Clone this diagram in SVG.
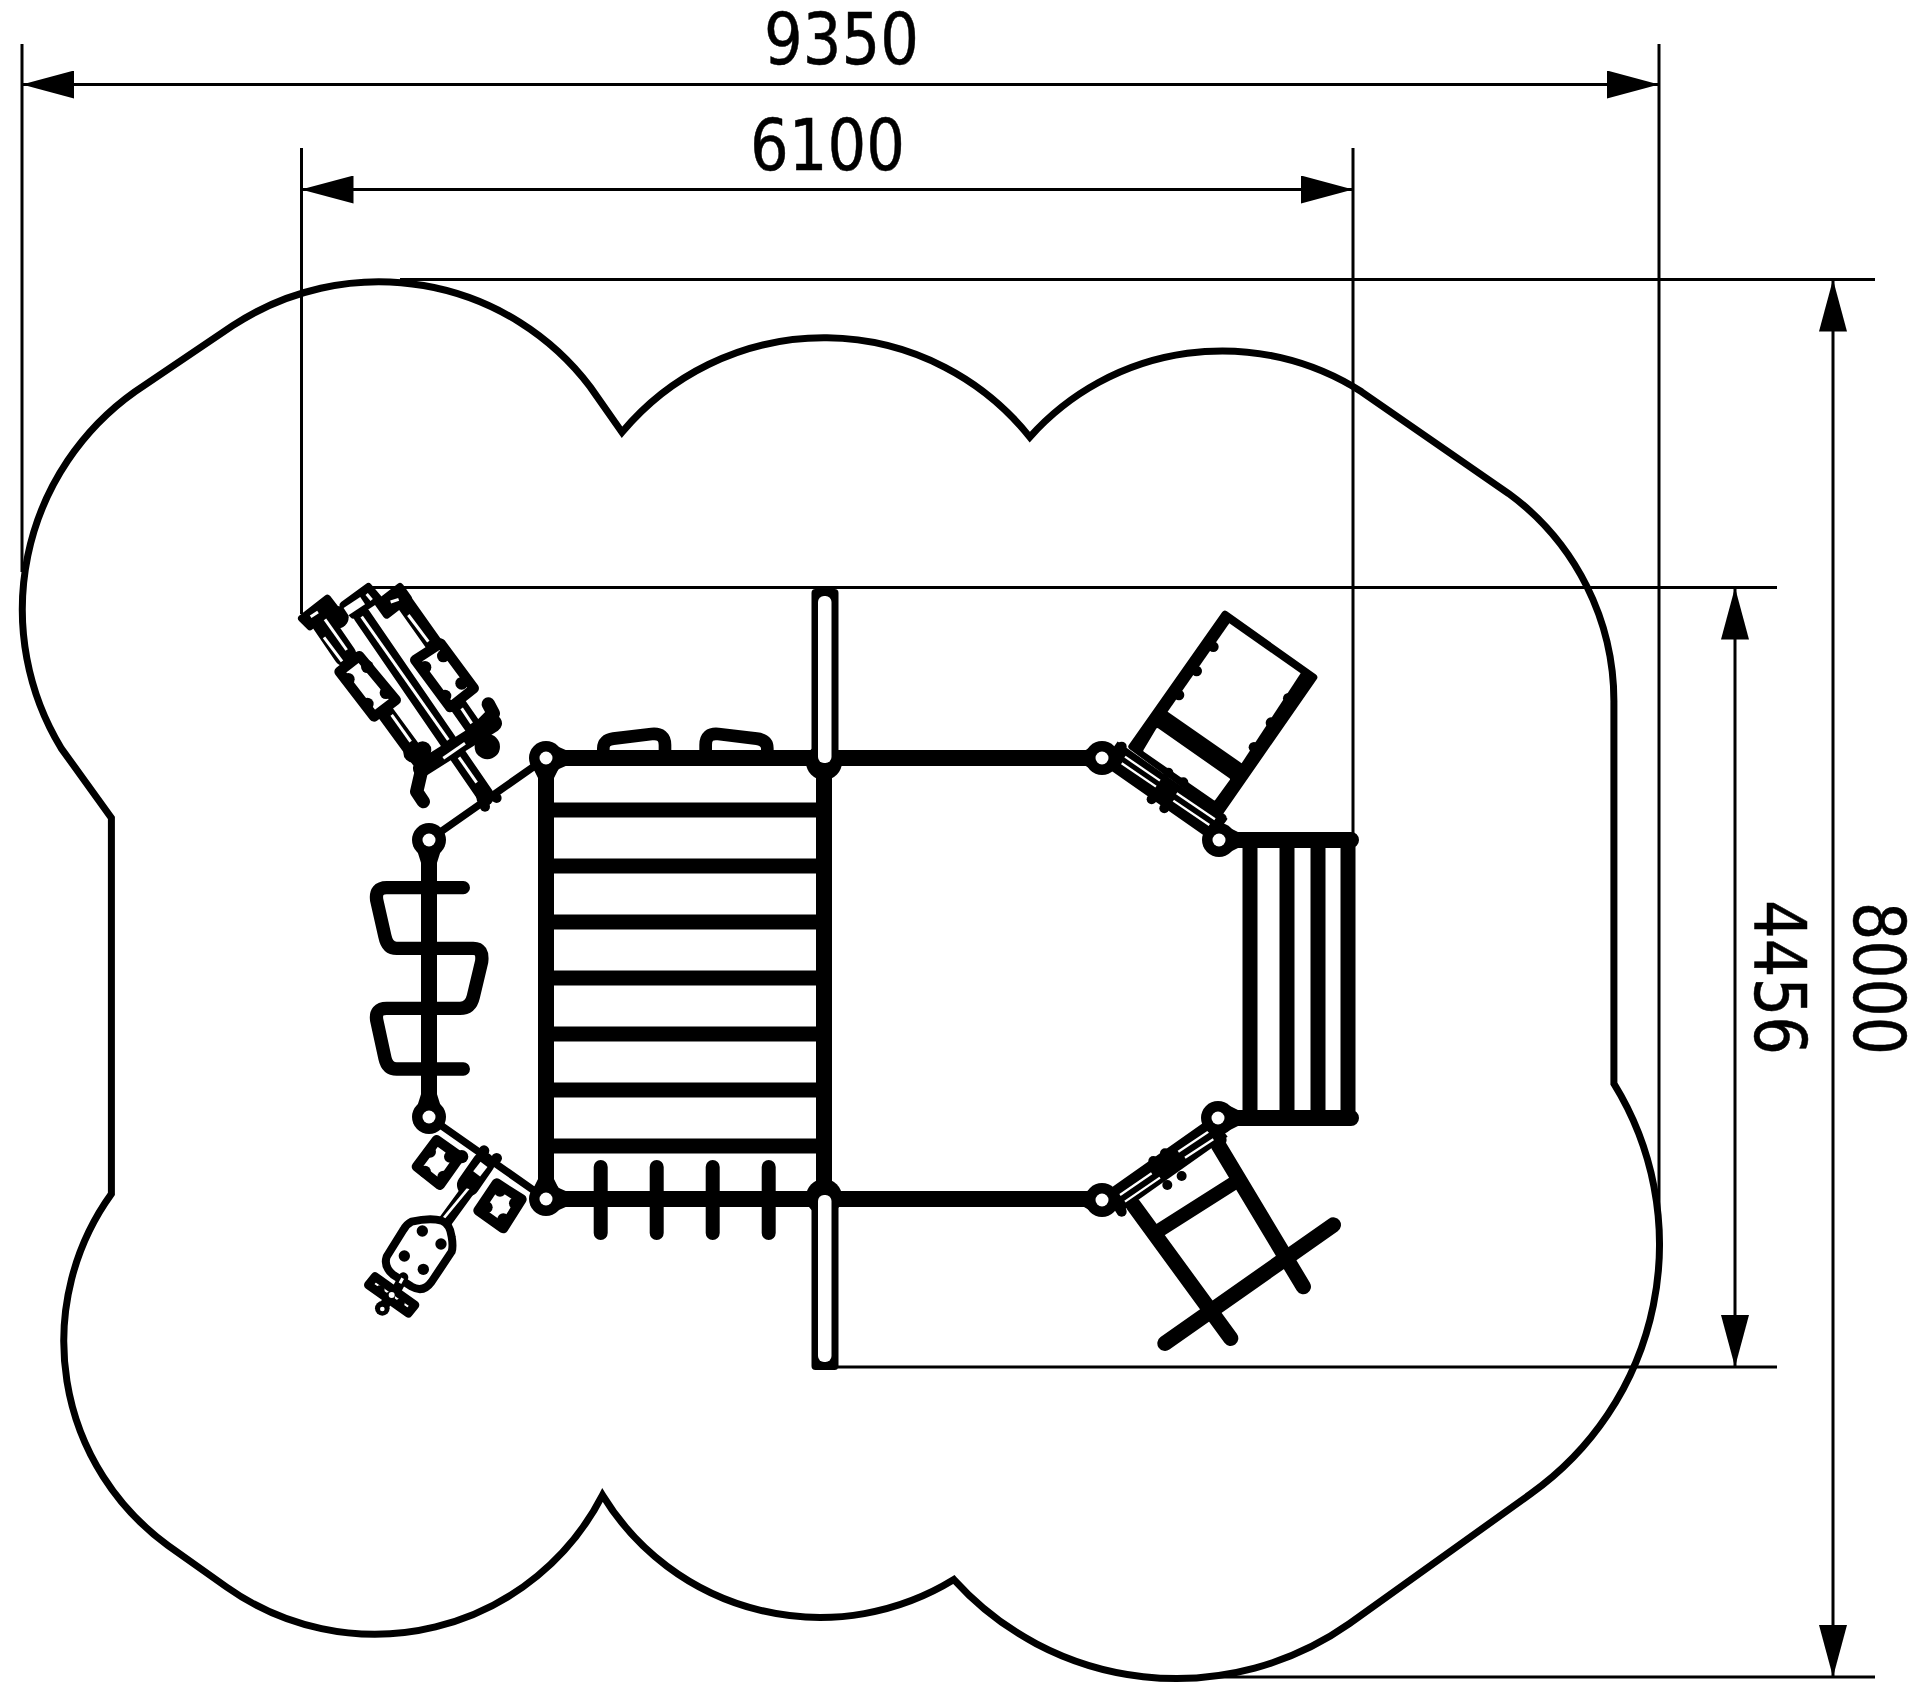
<svg xmlns="http://www.w3.org/2000/svg" width="1920" height="1698" viewBox="0 0 1920 1698">
<defs>
<marker id="arr" markerUnits="userSpaceOnUse" markerWidth="52" markerHeight="28" viewBox="0 0 52 28" refX="52" refY="14" orient="auto-start-reverse"><path d="M0 0L52 14L0 28Z" fill="#000"/></marker>
</defs>
<style>
.dim{fill:none;stroke:#000;stroke-width:3;marker-start:url(#arr);marker-end:url(#arr)}
.ext{fill:none;stroke:#000;stroke-width:3}
.out{fill:none;stroke:#000;stroke-width:7}
.t{font-family:"DejaVu Sans",sans-serif;font-size:71px;fill:#000;stroke:#000;stroke-width:.5}
.bar,.thin{stroke-linecap:round}
.bar{fill:none;stroke:#000;stroke-width:16}
.rung{fill:none;stroke:#000;stroke-width:15}
.thin{fill:none;stroke:#000;stroke-width:7.500}
.tick{stroke:#000;stroke-width:14;stroke-linecap:round}
.hole{fill:#fff}
.blk{fill:#000}
.z line,.z path{fill:none;stroke:#000;stroke-linejoin:round;stroke-linecap:round}
.z .wl{stroke:#fff;stroke-linecap:butt;stroke-width:9}
.z .seat{fill:#fff;stroke:#000;stroke-width:30;stroke-linejoin:round}
.s24{stroke-width:24!important}.s26{stroke-width:26!important}.s30{stroke-width:30!important}.s38{stroke-width:38!important}.s40{stroke-width:40!important}.s42{stroke-width:42!important}.s46{stroke-width:46!important}.s50{stroke-width:52!important}.s62{stroke-width:62!important}.s66{stroke-width:68!important}
</style>
<g id="surface"><path class="out" d="M232.7 325.7A265 265 0 0 1 590.2 386.9L622 432.3A263 263 0 0 1 1029.8 437.1A258 258 0 0 1 1361.6 391.8L1508.6 493.5A258 258 0 0 1 1613.9 704V1083.7A306 306 0 0 1 1530.6 1493.9L1349.4 1623.7A300 300 0 0 1 953.9 1579.6A255 255 0 0 1 602.5 1495.1A256 256 0 0 1 226.5 1587L167.8 1545.3A252 252 0 0 1 111.4 1193.9V818L61.2 748.2A267 267 0 0 1 134.7 391.8Z"/></g>
<g id="dimensions">
<line class="ext" x1="22" y1="44" x2="22" y2="572"/>
<line class="ext" x1="1659" y1="44" x2="1659" y2="1230"/>
<line class="ext" x1="301.5" y1="148" x2="301.5" y2="614"/>
<line class="ext" x1="1353" y1="148" x2="1353" y2="840"/>
<line class="ext" x1="400" y1="279.5" x2="1875" y2="279.5"/>
<line class="ext" x1="1176" y1="1677" x2="1875" y2="1677"/>
<line class="ext" x1="370" y1="587.5" x2="1777" y2="587.5"/>
<line class="ext" x1="838" y1="1367" x2="1777" y2="1367"/>
<line class="dim" x1="22" y1="84.5" x2="1659" y2="84.5"/>
<line class="dim" x1="301.5" y1="189.5" x2="1353" y2="189.5"/>
<line class="dim" x1="1833" y1="279.5" x2="1833" y2="1677"/>
<line class="dim" x1="1735" y1="587.5" x2="1735" y2="1367"/>
<text class="t" x="764" y="64" textLength="155" lengthAdjust="spacingAndGlyphs">9350</text>
<text class="t" x="750" y="170" textLength="155" lengthAdjust="spacingAndGlyphs">6100</text>
<text class="t" transform="translate(1755 900) rotate(90)" textLength="155" lengthAdjust="spacingAndGlyphs">4456</text>
<text class="t" transform="translate(1854 902) rotate(90)" textLength="153" lengthAdjust="spacingAndGlyphs">8000</text>
</g>
<g id="deck">
<line class="thin" x1="429" y1="840" x2="546" y2="758"/>
<line class="thin" x1="429" y1="1117" x2="546" y2="1199"/>
<line class="bar" x1="429" y1="840" x2="429" y2="1117"/>
<path class="bar" d="M546 758H1102M546 1199H1102M546 758V1199M824 758V1199"/>
<path class="rung" d="M546 810H824M546 866H824M546 922H824M546 978H824M546 1034H824M546 1090H824M546 1146H824"/>
<path class="tick" d="M600.700 1167V1233M656.700 1167V1233M712.700 1167V1233M768.700 1167V1233"/>
<g transform="translate(520 580) scale(.3333)" class="z"><path class="s38" d="M250 520V505Q250 480 280 476L395 462Q435 458 435 495V520"/><path class="s38" d="M557 520V495Q557 458 595 462L710 476Q742 480 742 505V520"/></g>
</g>
<g id="climber-w" class="z" transform="translate(350 820) scale(.3333)"><path class="s40" d="M340 203H110Q75 203 80 240L105 350Q112 385 140 385H370Q400 385 395 425L370 530Q362 565 330 565H110Q75 565 80 600L105 715Q112 747 140 747H340"/></g>
<g id="steps-e">
<path class="rung" d="M1250 840V1118M1287 840V1118M1318 840V1118M1348 840V1118"/>
<path class="bar" d="M1219 840H1351M1218 1118H1351"/>
</g>
<g id="post-n"><circle class="blk" cx="824" cy="762" r="18"/><rect class="blk" x="811.500" y="589" width="27" height="175" rx="4"/><rect class="hole" x="818" y="596" width="13.500" height="167" rx="6"/></g>
<g id="post-s"><circle class="blk" cx="824" cy="1197" r="18"/><rect class="blk" x="811.500" y="1190" width="27" height="180" rx="4"/><rect class="hole" x="818" y="1195" width="13.500" height="167" rx="6"/></g>
<g id="bench-nw" class="z" transform="translate(280 560) scale(.3333)">
<line class="s50" x1="245" y1="165" x2="615" y2="705"/>
<line class="s66" x1="130" y1="190" x2="195" y2="285"/>
<line class="s50" x1="310" y1="450" x2="420" y2="600"/>
<line class="s50" x1="375" y1="130" x2="460" y2="250"/>
<line class="s50" x1="530" y1="430" x2="600" y2="530"/>
<polygon class="blk" stroke="#000" stroke-width="22" stroke-linejoin="round" points="65,175 142,115 165,145 90,200"/>
<polygon class="blk" stroke="#000" stroke-width="22" stroke-linejoin="round" points="190,135 265,80 295,115 220,165"/>
<polygon class="blk" stroke="#000" stroke-width="22" stroke-linejoin="round" points="295,130 360,80 385,115 320,165"/>
<circle class="blk" cx="172" cy="172" r="34"/>
<line class="wl" x1="92" y1="170" x2="114" y2="156"/>
<line class="wl s26" x1="198" y1="155" x2="248" y2="122"/>
<line class="wl" x1="260" y1="102" x2="275" y2="120"/>
<line class="wl" x1="332" y1="126" x2="356" y2="118"/>
<line class="wl" x1="245" y1="170" x2="505" y2="540"/>
<line class="wl" x1="537" y1="592" x2="590" y2="668"/>
<line class="wl" x1="135" y1="178" x2="200" y2="270"/>
<line class="wl" x1="132" y1="232" x2="186" y2="304"/>
<line class="wl" x1="335" y1="465" x2="392" y2="545"/>
<line class="wl" x1="385" y1="165" x2="445" y2="245"/>
<line class="wl" x1="545" y1="445" x2="575" y2="490"/>
<polygon class="seat" points="178,335 238,288 348,420 282,470"/>
<polygon class="seat" points="405,300 482,250 582,385 510,442"/>
<g class="blk"><circle cx="205" cy="358" r="19"/><circle cx="262" cy="320" r="19"/><circle cx="262" cy="432" r="19"/><circle cx="318" cy="398" r="19"/><circle cx="435" cy="322" r="19"/><circle cx="490" cy="288" r="19"/><circle cx="495" cy="408" r="19"/><circle cx="545" cy="370" r="19"/></g>
<line class="s50" x1="425" y1="625" x2="640" y2="490"/>
<line class="wl" x1="490" y1="595" x2="555" y2="550"/>
<path class="s40" d="M425 630L410 695L430 725"/>
<path class="s40" d="M600 500L640 460L625 432"/>
<g class="blk"><circle cx="622" cy="560" r="38"/><circle cx="600" cy="525" r="32"/><circle cx="400" cy="578" r="30"/><circle cx="428" cy="570" r="26"/><circle cx="615" cy="712" r="26"/><circle cx="615" cy="740" r="15"/><circle cx="650" cy="714" r="15"/></g>
</g>
<g id="spring-sw" class="z" transform="translate(340 1100) scale(.3333)">
<line class="s66" x1="430" y1="190" x2="385" y2="255"/>
<line class="s42" x1="395" y1="255" x2="310" y2="372"/>
<line class="wl" style="stroke-width:8" x1="385" y1="265" x2="305" y2="362"/>
<line class="wl s26" x1="432" y1="193" x2="410" y2="222"/>
<g class="blk"><circle cx="432" cy="152" r="16"/><circle cx="470" cy="175" r="16"/><circle cx="365" cy="170" r="20"/><circle cx="385" cy="250" r="16"/></g>
<polygon class="seat" points="290,120 360,170 300,255 230,200"/>
<polygon class="seat" points="470,250 545,298 490,385 415,332"/>
<g class="blk"><circle cx="270" cy="155" r="18"/><circle cx="330" cy="170" r="18"/><circle cx="310" cy="230" r="18"/><circle cx="255" cy="215" r="18"/><circle cx="480" cy="272" r="18"/><circle cx="525" cy="310" r="18"/><circle cx="490" cy="358" r="18"/><circle cx="440" cy="322" r="18"/></g>
<path class="s24" style="fill:#fff" d="M215 365Q270 352 305 362Q330 372 335 410Q340 440 335 455L275 545Q250 580 215 560L160 525Q130 500 140 470L190 390Q200 372 215 365Z"/>
<g class="blk"><circle cx="247" cy="393" r="17"/><circle cx="303" cy="432" r="17"/><circle cx="193" cy="468" r="17"/><circle cx="250" cy="508" r="17"/></g>
<path class="s26" style="fill:#fff" d="M105 530L225 615L205 640L85 555Z"/>
<line class="s30" x1="150" y1="590" x2="127" y2="625"/>
<line class="s30" x1="190" y1="532" x2="172" y2="565"/>
<g class="blk"><circle cx="120" cy="570" r="14"/><circle cx="180" cy="610" r="14"/><circle cx="127" cy="625" r="22"/></g>
<circle class="hole" cx="127" cy="627" r="7"/>
<circle class="hole" cx="155" cy="585" r="9"/>
<line class="wl" x1="188" y1="535" x2="180" y2="550"/>
</g>
<g id="slide-ne" class="z" transform="translate(1070 590) scale(.3333)">
<polygon class="blk" stroke="#000" stroke-width="20" stroke-linejoin="round" points="465,72 732,262 452,665 185,470"/>
<polygon class="hole" points="478,100 692,250 515,520 293,365"/>
<polygon class="hole" stroke="#fff" stroke-width="8" stroke-linejoin="round" points="262,418 476,568 433,627 224,482"/>
<g class="blk"><circle cx="430" cy="170" r="16"/><circle cx="380" cy="243" r="16"/><circle cx="327" cy="315" r="16"/><circle cx="655" cy="325" r="16"/><circle cx="603" cy="398" r="16"/><circle cx="552" cy="472" r="16"/></g>
<line class="s62" style="stroke-linecap:butt" x1="125" y1="480" x2="455" y2="712"/>
<line class="s30" x1="97" y1="505" x2="447" y2="750"/>
<line class="wl" style="stroke-width:7" x1="165" y1="500" x2="270" y2="572"/>
<line class="wl" style="stroke-width:7" x1="155" y1="520" x2="258" y2="590"/>
<line class="wl" style="stroke-width:7" x1="320" y1="610" x2="435" y2="688"/>
<line class="wl" style="stroke-width:7" x1="310" y1="632" x2="418" y2="705"/>
<g class="blk"><circle cx="155" cy="470" r="15"/><circle cx="295" cy="548" r="15"/><circle cx="340" cy="577" r="15"/><circle cx="245" cy="628" r="15"/><circle cx="283" cy="655" r="15"/><circle cx="455" cy="685" r="15"/></g>
</g>
<g id="ladder-se" class="z" transform="translate(1070 1090) scale(.3333)">
<line class="s46" x1="190" y1="345" x2="482" y2="745"/>
<line class="s46" x1="445" y1="165" x2="700" y2="590"/>
<line class="s42" x1="262" y1="425" x2="490" y2="280"/>
<line class="s46" x1="285" y1="760" x2="790" y2="405"/>
<line class="s62" style="stroke-linecap:butt" x1="125" y1="348" x2="455" y2="115"/>
<line class="s30" x1="97" y1="330" x2="445" y2="85"/>
<line class="wl" style="stroke-width:7" x1="150" y1="315" x2="245" y2="250"/>
<line class="wl" style="stroke-width:7" x1="165" y1="335" x2="270" y2="263"/>
<line class="wl" style="stroke-width:7" x1="325" y1="185" x2="415" y2="125"/>
<line class="wl" style="stroke-width:7" x1="345" y1="203" x2="430" y2="148"/>
<g class="blk"><circle cx="155" cy="365" r="15"/><circle cx="250" cy="213" r="15"/><circle cx="285" cy="190" r="15"/><circle cx="335" cy="258" r="15"/><circle cx="292" cy="285" r="15"/><circle cx="455" cy="150" r="15"/></g>
</g>
<g id="joints">
<path class="blk" d="M533 768L559 768L553 780H539ZM552 744L568 751V765L552 772ZM533 1189H559L553 1177H539ZM552 1185L568 1192V1206L552 1213Z"/>
<path class="blk" d="M417 850H441L436 866H422ZM417 1107H441L436 1091H422Z"/>
<path class="blk" d="M1096 744L1084 751V765L1096 772ZM1096 1186L1084 1193V1207L1096 1214ZM1226 826L1240 833V847L1226 854ZM1226 1104L1240 1111V1125L1226 1132Z"/>
<g class="blk"><circle cx="546" cy="758" r="17"/><circle cx="546" cy="1199" r="17"/><circle cx="429" cy="840" r="17"/><circle cx="429" cy="1117" r="17"/><circle cx="1102" cy="758" r="17"/><circle cx="1102" cy="1200" r="17"/><circle cx="1219" cy="840" r="17"/><circle cx="1218" cy="1118" r="17"/></g>
<g class="hole"><circle cx="546" cy="758" r="6.500"/><circle cx="546" cy="1199" r="6.500"/><circle cx="429" cy="840" r="6.500"/><circle cx="429" cy="1117" r="6.500"/><circle cx="1102" cy="758" r="6.500"/><circle cx="1102" cy="1200" r="6.500"/><circle cx="1219" cy="840" r="6.500"/><circle cx="1218" cy="1118" r="6.500"/></g>
</g>
</svg>
